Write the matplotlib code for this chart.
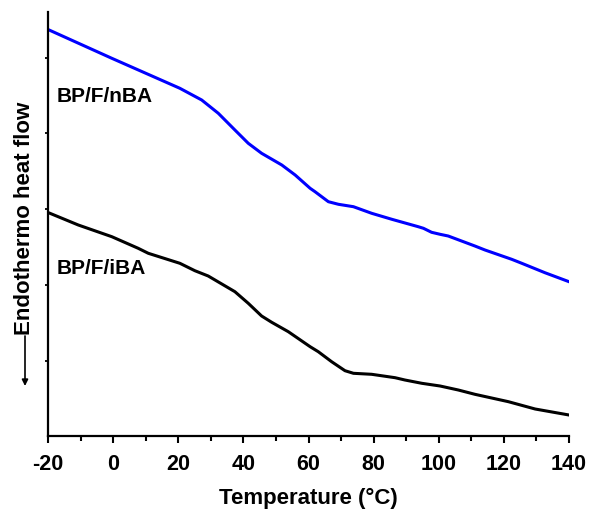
import matplotlib
matplotlib.use('Agg')
import matplotlib.pyplot as plt
from matplotlib.ticker import MultipleLocator

plt.rcParams['font.family'] = ['Liberation Sans', 'DejaVu Sans']
plt.rcParams['font.weight'] = 'bold'
plt.rcParams['axes.unicode_minus'] = False

# DSC traces (arbitrary heat-flow units)
t_nba = [-20, -0.4, 20.5, 27.2, 32.3, 37.4, 41.5, 45.6, 51.8, 55.9, 60.5, 62.0, 66.1,
         69.2, 73.8, 79.4, 85.6, 93.7, 95.3, 97.8, 100.4, 102.9, 111.1, 114.2, 122.4,
         125.5, 132.6, 140]
q_nba = [406.5, 377.7, 347.7, 336, 322.7, 306, 292.7, 282.7, 271, 261, 247.7, 244.3, 234.3,
         231.7, 229.3, 222.7, 216.7, 209.3, 207.7, 203.7, 201.7, 200, 190, 186, 176.7,
         172.7, 163.3, 154.3]

t_iba = [-20, -10.7, -0.4, 7.7, 10.8, 20.5, 25.1, 29.2, 37.4, 41.5, 45.6, 48.7, 53.8,
         60.5, 63.0, 67.1, 71.2, 73.8, 79.4, 86.6, 89.6, 94.8, 100.4, 106.0, 111.1,
         121.4, 129.6, 140]
q_iba = [223.5, 211, 199.3, 187.7, 182.7, 172.7, 165.3, 160, 144.3, 132.7, 120, 113.7, 104.3,
         89.3, 84.3, 74.3, 65.3, 62.7, 61.7, 58.3, 56, 52.7, 50, 46, 41.7,
         34.3, 27, 21]

fig = plt.figure(figsize=(5.9, 5.12), dpi=100)
ax = fig.add_axes([48/590., 1 - 436/512., 521/590., 424/512.])

ax.plot(t_nba, q_nba, color='#0000ff', lw=2.2)
ax.plot(t_iba, q_iba, color='black', lw=2.2)

ax.set_xlim(-20, 140)
ax.set_ylim(0, 424)
ax.xaxis.set_major_locator(MultipleLocator(20))
ax.xaxis.set_minor_locator(MultipleLocator(10))
ax.set_yticks([75, 151, 227, 303, 378])
ax.set_yticklabels([])

for s in ['top', 'right']:
    ax.spines[s].set_visible(False)
for s in ['left', 'bottom']:
    ax.spines[s].set_linewidth(1.6)

ax.tick_params(axis='x', which='major', length=5, width=1.5, labelsize=15.5, pad=8)
ax.tick_params(axis='x', which='minor', length=3.5, width=1.5)
ax.tick_params(axis='y', which='major', length=2.5, width=1.3)
for lb in ax.get_xticklabels():
    lb.set_fontweight('bold')

ax.set_xlabel(u'Temperature (\u00b0C)', fontsize=16, fontweight='bold', labelpad=9)

ax.text(-17.4, 339, 'BP/F/nBA', fontsize=15, fontweight='bold', va='center', ha='left')
ax.text(-17.4, 168, 'BP/F/iBA', fontsize=15, fontweight='bold', va='center', ha='left')

fig.text(25/590., 1 - 218/512., 'Endothermo heat flow', rotation=90, fontsize=16,
         fontweight='bold', ha='center', va='center')
fig.add_artist(matplotlib.patches.FancyArrowPatch(
    (25/590., 1 - 336/512.), (25/590., 1 - 386/512.), transform=fig.transFigure,
    arrowstyle='-|>', mutation_scale=9, lw=1.2, color='black', shrinkA=0, shrinkB=0))

plt.savefig('out.png', dpi=100)
